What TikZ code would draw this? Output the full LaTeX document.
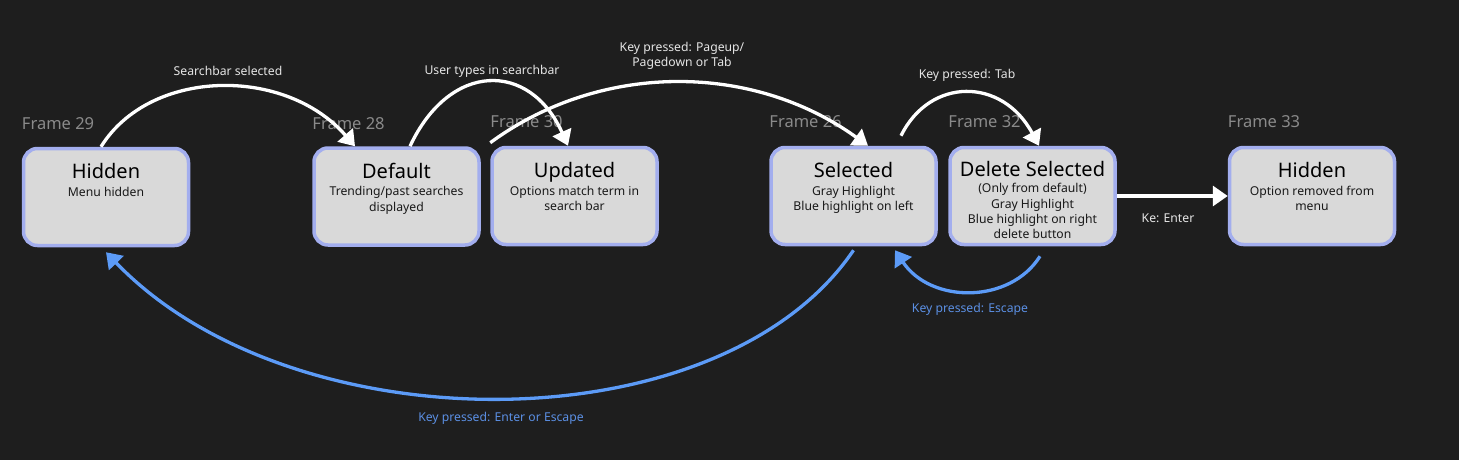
\documentclass[tikz,border=0pt]{standalone}
\usepackage{fontspec}
\setmainfont{Noto Sans}
\usepackage{tikz}
\usetikzlibrary{arrows.meta, positioning}
\definecolor{bg}{HTML}{1E1E1E}
\definecolor{boxfill}{HTML}{D9D9D9}
\definecolor{boxline}{HTML}{A3AEEE}
\definecolor{framegray}{HTML}{8A8A8A}
\definecolor{escblue}{HTML}{5C9BF7}
\definecolor{esctext}{HTML}{5B8FE3}
\tikzstyle{state} = [draw=boxline, line width=3.5pt, fill=boxfill, rounded corners=14pt, minimum width=165pt, minimum height=97pt, inner sep=0pt]
\tikzstyle{ttl} = [anchor=base, inner sep=0pt, text=black, font=\fontsize{20}{23}\selectfont]
\tikzstyle{sub} = [anchor=north, inner sep=0pt, align=center, text=black!90, font=\fontsize{12.2}{15.4}\selectfont]
\tikzstyle{frm} = [anchor=base west, inner sep=0pt, text=framegray, font=\fontsize{16.5}{19}\selectfont]
\tikzstyle{lbl} = [inner sep=0pt, align=center, text=white!90!black, font=\fontsize{12.2}{15}\selectfont]
\tikzstyle{esclbl} = [inner sep=0pt, text=esctext, font=\fontsize{12.2}{15}\selectfont]
\tikzstyle{flow} = [draw=white, line width=3.3pt, -{Triangle[length=15pt,width=20pt]}]
\tikzstyle{escflow} = [draw=escblue, line width=3.3pt, -{Triangle[length=15pt,width=20pt]}]

\begin{document}
\begin{tikzpicture}[x=1pt, y=-1pt]
    \useasboundingbox[fill=bg] (0,0) rectangle (1459,460);

    % States
    \node[state] (hida) at (106,197) {};
    \node[state] (dflt) at (396.5,196.5) {};
    \node[state] (upd) at (574.5,196) {};
    \node[state] (sel) at (853.5,196) {};
    \node[state] (del) at (1032.5,196) {};
    \node[state] (hidb) at (1312,196) {};

    % Frame names
    \node[frm] (fhida) at ([yshift=17pt]hida.north west) {Frame 29};
    \node[frm] (fdflt) at ([yshift=17pt]dflt.north west) {Frame 28};
    \node[frm] (fupd) at ([yshift=18pt]upd.north west) {Frame 30};
    \node[frm] (fsel) at ([yshift=18pt]sel.north west) {Frame 26};
    \node[frm] (fdel) at ([yshift=18pt]del.north west) {Frame 32};
    \node[frm] (fhidb) at ([yshift=18pt]hidb.north west) {Frame 33};

    % Titles and descriptions
    \node[ttl] (thida) at ([yshift=-32pt]hida.north) {Hidden};
    \node[sub] (shida) at ([yshift=-38.5pt]hida.north) {\strut Menu hidden};
    \node[ttl] (tdflt) at ([yshift=-32pt]dflt.north) {Default};
    \node[sub] (sdflt) at ([yshift=-38.5pt]dflt.north) {\strut Trending/past searches\\displayed};
    \node[ttl] (tupd) at ([yshift=-32pt]upd.north) {Updated};
    \node[sub] (supd) at ([yshift=-38.5pt]upd.north) {\strut Options match term in\\search bar};
    \node[ttl] (tsel) at ([yshift=-32pt]sel.north) {Selected};
    \node[sub] (ssel) at ([yshift=-38.5pt]sel.north) {\strut Gray Highlight\\Blue highlight on left};
    \node[ttl] (tdel) at ([yshift=-31pt]del.north) {Delete Selected};
    \node[sub] (sdel) at ([yshift=-36pt]del.north) {\strut (Only from default)\\Gray Highlight\\Blue highlight on right\\delete button};
    \node[ttl] (thidb) at ([yshift=-32pt]hidb.north) {Hidden};
    \node[sub] (shidb) at ([yshift=-38.5pt]hidb.north) {\strut Option removed from\\menu};

    % Transition labels
    \node[lbl] (lsearch) at (228,71) {Searchbar selected};
    \node[lbl] (ltype) at (492,71) {User types in searchbar};
    \node[lbl] (lpage) at (682,56) {Key pressed: Pageup/\\Pagedown or Tab};
    \node[lbl] (ltab) at (967,75) {Key pressed: Tab};
    \node[lbl] (lenter) at (1168,218) {Ke: Enter};
    \node[esclbl] (lesc) at (970,309) {Key pressed: Escape};
    \node[esclbl] (lback) at (501,418) {Key pressed: Enter or Escape};

    % Edges
    \draw[flow] ([xshift=-5pt]hida.north) .. controls (150,68) and (285,66) .. ([xshift=-41.5pt]dflt.north);
    \draw[flow] ([xshift=13.5pt]dflt.north) .. controls (450,61) and (530,61) .. ([xshift=-6.5pt]upd.north);
    \draw[flow] ([yshift=3pt]upd.north west) .. controls (600,62) and (752,62) .. ([xshift=14.5pt]sel.north);
    \draw[flow] ([xshift=47.5pt,yshift=10pt]sel.north) .. controls (930,77) and (1002,77) .. ([xshift=6.5pt]del.north);
    \draw[flow] (del.east) -- (hidb.west);
    \draw[escflow] ([xshift=7.5pt,yshift=-10pt]del.south) .. controls (1010,304) and (931,304) .. ([xshift=41.5pt,yshift=-4pt]sel.south);
    \draw[escflow] ([yshift=-4pt]sel.south) .. controls (720,447) and (293,447) .. ([yshift=-5pt]hida.south);
\end{tikzpicture}
\end{document}
